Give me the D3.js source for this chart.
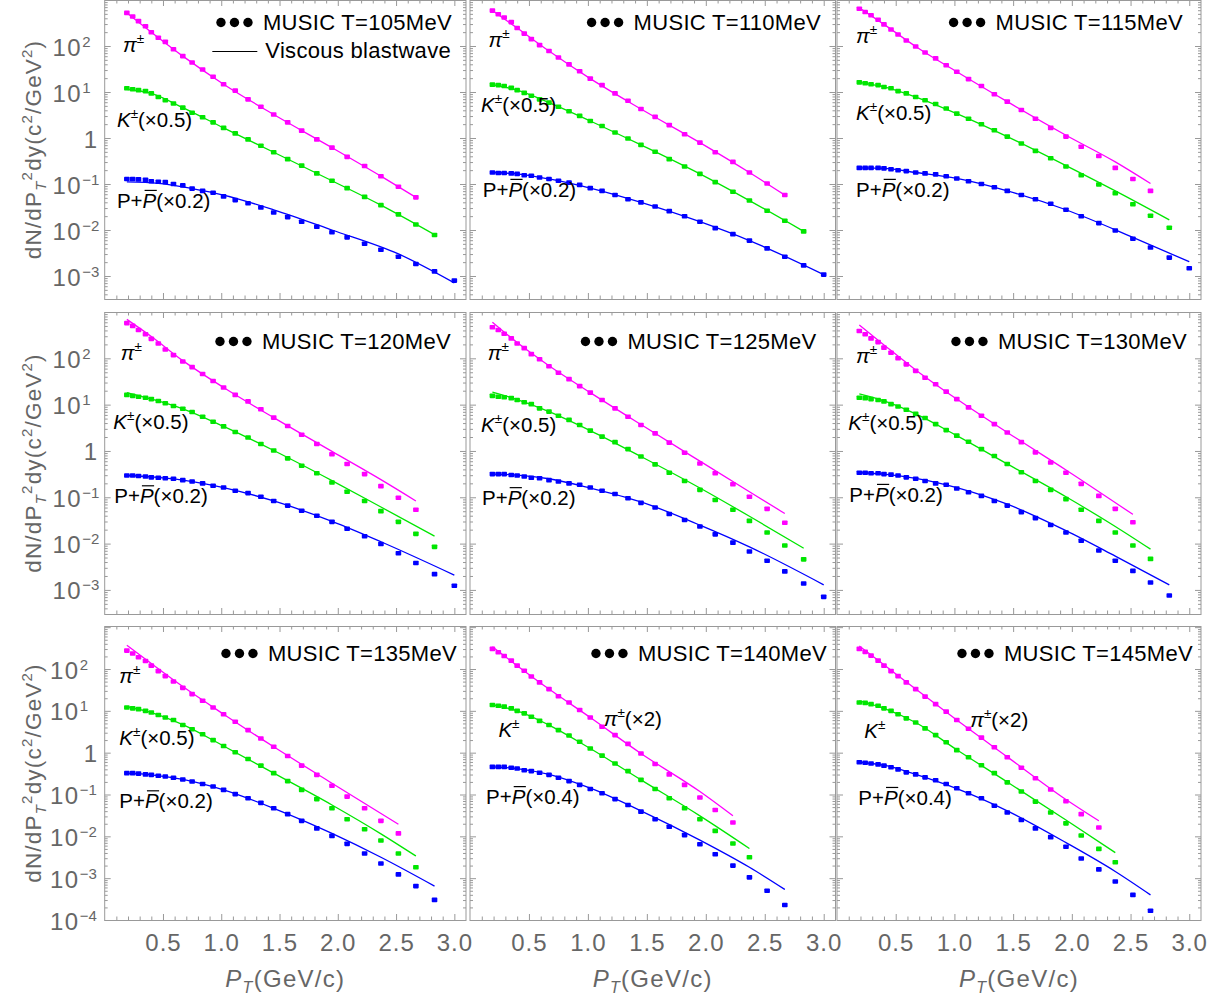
<!DOCTYPE html>
<html>
<head>
<meta charset="utf-8">
<style>
body { margin: 0; background: #fff; }
text { font-family: "Liberation Sans", Arial, Helvetica, sans-serif; }
</style>
</head>
<body>
<svg id="chart" width="1218" height="999"></svg>
<script src="https://d3js.org/d3.v7.min.js"></script>
<script>
// pT grid of the MUSIC points (GeV/c), shared by all panels
var ptGrid = [0.19, 0.24, 0.29, 0.35, 0.40, 0.46, 0.52, 0.59, 0.67, 0.75, 0.84, 0.93, 1.02, 1.12,
              1.23, 1.34, 1.45, 1.57, 1.69, 1.82, 1.95, 2.08, 2.23, 2.37, 2.52, 2.67, 2.83, 3.00];
var temperatures = [105, 110, 115, 120, 125, 130, 135, 140, 145];

// MUSIC points, log10 of dN/dPT^2dy (already scaled), one row per panel
var pionLog = [
  [2.72, 2.64, 2.54, 2.43, 2.30, 2.18, 2.09, 1.93, 1.78, 1.64, 1.49, 1.33, 1.17, 1.03, 0.84, 0.68, 0.51, 0.34, 0.16, -0.03, -0.21, -0.41, -0.61, -0.83, -1.06, -1.29],
  [2.77, 2.69, 2.62, 2.52, 2.39, 2.27, 2.15, 2.02, 1.89, 1.75, 1.60, 1.45, 1.29, 1.15, 0.97, 0.81, 0.63, 0.46, 0.28, 0.08, -0.10, -0.31, -0.52, -0.75, -0.99, -1.24],
  [2.81, 2.74, 2.67, 2.57, 2.47, 2.36, 2.25, 2.12, 1.99, 1.86, 1.73, 1.58, 1.44, 1.28, 1.13, 0.95, 0.79, 0.61, 0.42, 0.22, 0.03, -0.19, -0.39, -0.65, -0.89, -1.15],
  [2.76, 2.70, 2.61, 2.52, 2.42, 2.32, 2.19, 2.07, 1.93, 1.81, 1.66, 1.51, 1.37, 1.21, 1.07, 0.90, 0.72, 0.54, 0.35, 0.15, -0.07, -0.28, -0.50, -0.76, -1.01, -1.27],
  [2.67, 2.61, 2.53, 2.43, 2.32, 2.22, 2.09, 1.98, 1.83, 1.69, 1.55, 1.40, 1.26, 1.10, 0.92, 0.74, 0.56, 0.38, 0.18, -0.04, -0.27, -0.48, -0.72, -0.99, -1.25, -1.55],
  [2.59, 2.52, 2.43, 2.35, 2.23, 2.12, 2.00, 1.87, 1.73, 1.58, 1.44, 1.28, 1.12, 0.94, 0.76, 0.58, 0.40, 0.19, -0.03, -0.25, -0.47, -0.71, -0.97, -1.25, -1.54],
  [2.44, 2.37, 2.28, 2.19, 2.08, 1.95, 1.83, 1.70, 1.55, 1.40, 1.24, 1.08, 0.92, 0.74, 0.54, 0.34, 0.14, -0.08, -0.31, -0.53, -0.79, -1.05, -1.33, -1.63, -1.93],
  [2.48, 2.40, 2.31, 2.20, 2.08, 1.96, 1.82, 1.68, 1.52, 1.35, 1.20, 1.02, 0.84, 0.62, 0.42, 0.21, -0.02, -0.27, -0.52, -0.77, -1.07, -1.37, -1.67],
  [2.48, 2.41, 2.32, 2.20, 2.08, 1.95, 1.83, 1.68, 1.52, 1.34, 1.16, 0.98, 0.78, 0.57, 0.36, 0.13, -0.11, -0.36, -0.61, -0.88, -1.16, -1.47, -1.79]
];
var kaonLog = [
  [1.08, 1.06, 1.04, 1.02, 0.97, 0.89, 0.82, 0.75, 0.66, 0.55, 0.45, 0.34, 0.22, 0.10, -0.03, -0.17, -0.31, -0.46, -0.60, -0.77, -0.93, -1.09, -1.28, -1.46, -1.66, -1.88, -2.11],
  [1.16, 1.15, 1.13, 1.09, 1.04, 0.98, 0.92, 0.84, 0.77, 0.68, 0.58, 0.48, 0.37, 0.26, 0.12, -0.01, -0.15, -0.30, -0.46, -0.62, -0.78, -0.96, -1.17, -1.36, -1.58, -1.80, -2.03],
  [1.21, 1.19, 1.17, 1.15, 1.11, 1.08, 1.02, 0.97, 0.89, 0.82, 0.74, 0.64, 0.53, 0.42, 0.30, 0.17, 0.03, -0.12, -0.28, -0.44, -0.62, -0.81, -1.01, -1.20, -1.44, -1.69, -1.95],
  [1.21, 1.19, 1.17, 1.15, 1.12, 1.08, 1.03, 0.97, 0.91, 0.84, 0.74, 0.63, 0.53, 0.41, 0.29, 0.15, 0.01, -0.16, -0.32, -0.48, -0.68, -0.88, -1.08, -1.30, -1.53, -1.79, -2.07],
  [1.19, 1.17, 1.16, 1.14, 1.10, 1.05, 1.01, 0.92, 0.85, 0.76, 0.67, 0.56, 0.44, 0.31, 0.19, 0.04, -0.12, -0.29, -0.47, -0.65, -0.84, -1.06, -1.27, -1.51, -1.76, -2.04, -2.34],
  [1.15, 1.14, 1.12, 1.10, 1.07, 1.01, 0.96, 0.89, 0.80, 0.71, 0.58, 0.45, 0.33, 0.20, 0.04, -0.11, -0.28, -0.46, -0.65, -0.84, -1.04, -1.27, -1.51, -1.76, -2.04, -2.33],
  [1.08, 1.06, 1.04, 1.00, 0.96, 0.90, 0.84, 0.78, 0.66, 0.56, 0.44, 0.30, 0.16, 0.01, -0.15, -0.31, -0.49, -0.68, -0.89, -1.11, -1.33, -1.59, -1.83, -2.10, -2.41, -2.74],
  [1.14, 1.12, 1.10, 1.06, 1.00, 0.94, 0.86, 0.76, 0.66, 0.54, 0.41, 0.26, 0.10, -0.07, -0.26, -0.44, -0.65, -0.87, -1.09, -1.33, -1.59, -1.87, -2.17, -2.50],
  [1.20, 1.19, 1.16, 1.12, 1.06, 1.00, 0.92, 0.82, 0.72, 0.58, 0.42, 0.25, 0.06, -0.11, -0.30, -0.49, -0.71, -0.93, -1.17, -1.43, -1.69, -1.98, -2.30, -2.62]
];
var protonLog = [
  [-0.89, -0.89, -0.90, -0.91, -0.94, -0.95, -0.96, -1.00, -1.03, -1.10, -1.15, -1.19, -1.27, -1.35, -1.42, -1.51, -1.62, -1.72, -1.82, -1.93, -2.05, -2.16, -2.30, -2.43, -2.58, -2.74, -2.90, -3.10],
  [-0.75, -0.76, -0.76, -0.77, -0.78, -0.81, -0.82, -0.86, -0.89, -0.93, -0.97, -1.02, -1.09, -1.15, -1.24, -1.33, -1.40, -1.49, -1.59, -1.70, -1.82, -1.96, -2.09, -2.23, -2.40, -2.58, -2.77, -2.97],
  [-0.65, -0.65, -0.65, -0.65, -0.66, -0.68, -0.70, -0.72, -0.75, -0.77, -0.79, -0.83, -0.88, -0.94, -1.00, -1.07, -1.15, -1.24, -1.33, -1.43, -1.56, -1.70, -1.85, -2.01, -2.19, -2.38, -2.60, -2.83],
  [-0.53, -0.53, -0.54, -0.55, -0.57, -0.58, -0.59, -0.60, -0.63, -0.66, -0.70, -0.75, -0.79, -0.86, -0.91, -0.99, -1.08, -1.18, -1.29, -1.40, -1.53, -1.68, -1.84, -2.01, -2.21, -2.42, -2.66, -2.91],
  [-0.50, -0.50, -0.50, -0.52, -0.53, -0.55, -0.58, -0.59, -0.63, -0.66, -0.70, -0.73, -0.79, -0.86, -0.93, -1.02, -1.12, -1.22, -1.36, -1.49, -1.63, -1.80, -1.98, -2.17, -2.37, -2.60, -2.86, -3.15],
  [-0.47, -0.47, -0.48, -0.48, -0.50, -0.51, -0.53, -0.57, -0.60, -0.65, -0.70, -0.73, -0.81, -0.89, -0.97, -1.08, -1.18, -1.32, -1.45, -1.60, -1.76, -1.94, -2.15, -2.37, -2.59, -2.84, -3.12],
  [-0.49, -0.49, -0.50, -0.52, -0.53, -0.55, -0.57, -0.60, -0.64, -0.69, -0.75, -0.81, -0.89, -0.99, -1.09, -1.20, -1.33, -1.47, -1.63, -1.81, -1.99, -2.18, -2.41, -2.65, -2.91, -3.19, -3.52],
  [-0.34, -0.34, -0.34, -0.36, -0.38, -0.42, -0.44, -0.48, -0.53, -0.60, -0.68, -0.77, -0.87, -0.97, -1.11, -1.25, -1.41, -1.59, -1.77, -1.97, -2.19, -2.43, -2.70, -2.98, -3.30, -3.64],
  [-0.23, -0.24, -0.26, -0.28, -0.31, -0.35, -0.40, -0.47, -0.52, -0.59, -0.66, -0.75, -0.85, -0.97, -1.09, -1.27, -1.43, -1.61, -1.81, -2.02, -2.25, -2.53, -2.79, -3.08, -3.40, -3.78]
];

// viscous blastwave curves, knots [pT, log10 value]
var pionBW = [
  [[0.19, 2.72], [0.40, 2.30], [0.67, 1.78], [1.02, 1.17], [1.45, 0.51], [1.95, -0.21], [2.37, -0.83], [2.67, -1.29]],
  [[0.19, 2.77], [0.40, 2.39], [0.67, 1.89], [1.02, 1.29], [1.45, 0.63], [1.95, -0.10], [2.37, -0.75], [2.67, -1.24]],
  [[0.19, 2.83], [0.40, 2.47], [0.67, 1.99], [1.02, 1.44], [1.45, 0.79], [1.95, 0.06], [2.37, -0.52], [2.67, -0.99]],
  [[0.19, 2.84], [0.40, 2.47], [0.67, 1.95], [1.02, 1.37], [1.45, 0.72], [1.95, -0.01], [2.37, -0.62], [2.67, -1.08]],
  [[0.19, 2.78], [0.40, 2.34], [0.67, 1.84], [1.02, 1.26], [1.45, 0.57], [1.95, -0.22], [2.37, -0.88], [2.67, -1.35]],
  [[0.19, 2.72], [0.40, 2.29], [0.67, 1.75], [1.02, 1.12], [1.45, 0.40], [1.95, -0.41], [2.52, -1.37]],
  [[0.19, 2.57], [0.40, 2.13], [0.67, 1.58], [1.02, 0.92], [1.45, 0.14], [1.95, -0.73], [2.52, -1.71]],
  [[0.19, 2.53], [0.40, 2.08], [0.67, 1.52], [1.02, 0.84], [1.45, -0.02], [1.95, -0.93], [2.23, -1.51]],
  [[0.19, 2.55], [0.40, 2.10], [0.67, 1.52], [1.02, 0.78], [1.45, -0.10], [1.95, -1.12], [2.23, -1.63]]
];
var kaonBW = [
  [[0.19, 1.06], [0.40, 0.97], [0.67, 0.66], [1.02, 0.22], [1.45, -0.31], [1.95, -0.93], [2.37, -1.46], [2.85, -2.13]],
  [[0.19, 1.16], [0.40, 1.04], [0.67, 0.77], [1.02, 0.37], [1.45, -0.15], [1.95, -0.78], [2.37, -1.36], [2.83, -2.03]],
  [[0.19, 1.21], [0.40, 1.11], [0.67, 0.89], [1.02, 0.53], [1.45, 0.03], [1.95, -0.60], [2.37, -1.15], [2.83, -1.78]],
  [[0.19, 1.26], [0.40, 1.12], [0.67, 0.91], [1.02, 0.53], [1.45, 0.01], [1.95, -0.64], [2.37, -1.21], [2.83, -1.84]],
  [[0.19, 1.27], [0.40, 1.11], [0.67, 0.85], [1.02, 0.44], [1.45, -0.12], [1.95, -0.80], [2.37, -1.41], [2.83, -2.10]],
  [[0.19, 1.23], [0.40, 1.08], [0.67, 0.80], [1.02, 0.33], [1.45, -0.28], [1.95, -0.99], [2.37, -1.63], [2.67, -2.12]],
  [[0.19, 1.10], [0.40, 0.96], [0.67, 0.67], [1.02, 0.16], [1.45, -0.49], [1.95, -1.25], [2.37, -1.94], [2.67, -2.47]],
  [[0.19, 1.14], [0.40, 1.00], [0.67, 0.66], [1.02, 0.10], [1.45, -0.65], [1.95, -1.51], [2.37, -2.29]],
  [[0.19, 1.24], [0.40, 1.06], [0.67, 0.72], [1.02, 0.07], [1.45, -0.70], [1.95, -1.61], [2.37, -2.39]]
];
var protonBW = [
  [[0.19, -0.955], [0.46, -0.985], [0.75, -1.10], [1.02, -1.24], [1.45, -1.56], [1.95, -2.00], [2.52, -2.52], [3.00, -3.15]],
  [[0.19, -0.75], [0.40, -0.78], [0.67, -0.89], [1.02, -1.09], [1.45, -1.40], [1.95, -1.82], [2.37, -2.23], [3.00, -2.97]],
  [[0.19, -0.65], [0.40, -0.66], [0.67, -0.75], [1.02, -0.88], [1.45, -1.15], [1.95, -1.56], [2.52, -2.16], [3.00, -2.69]],
  [[0.19, -0.53], [0.40, -0.56], [0.67, -0.63], [1.02, -0.79], [1.45, -1.08], [1.95, -1.52], [2.37, -1.96], [3.00, -2.68]],
  [[0.19, -0.50], [0.40, -0.52], [0.67, -0.60], [1.02, -0.80], [1.45, -1.10], [1.95, -1.60], [2.37, -2.07], [3.00, -2.89]],
  [[0.19, -0.47], [0.40, -0.50], [0.67, -0.59], [1.02, -0.79], [1.45, -1.15], [1.95, -1.72], [2.37, -2.27], [2.83, -2.89]],
  [[0.19, -0.49], [0.40, -0.53], [0.67, -0.64], [1.02, -0.89], [1.45, -1.33], [1.95, -1.93], [2.37, -2.50], [2.83, -3.19]],
  [[0.19, -0.34], [0.40, -0.38], [0.67, -0.52], [1.02, -0.85], [1.45, -1.39], [1.95, -2.09], [2.37, -2.74], [2.67, -3.27]],
  [[0.19, -0.23], [0.40, -0.30], [0.67, -0.52], [1.02, -0.86], [1.45, -1.39], [1.95, -2.15], [2.37, -2.84], [2.67, -3.40]]
];

// scale factors written in the species labels
var pionFactor = ["", "", "", "", "", "", "", "×2", "×2"];
var kaonFactor = ["×0.5", "×0.5", "×0.5", "×0.5", "×0.5", "×0.5", "×0.5", "", ""];
var protonFactor = ["×0.2", "×0.2", "×0.2", "×0.2", "×0.2", "×0.2", "×0.2", "×0.4", "×0.4"];
// label anchors in data coordinates [pT, log10]: pion, kaon, proton
var labelAt = [
  [[0.157, 1.87], [0.105, 0.24], [0.105, -1.52]],
  [[0.156, 1.985], [0.094, 0.57], [0.108, -1.28]],
  [[0.162, 2.06], [0.162, 0.39], [0.162, -1.28]],
  [[0.137, 1.96], [0.074, 0.47], [0.082, -1.13]],
  [[0.151, 1.96], [0.094, 0.42], [0.102, -1.17]],
  [[0.162, 1.89], [0.096, 0.45], [0.105, -1.10]],
  [[0.125, 1.66], [0.125, 0.18], [0.125, -1.33]],
  [[1.134, 0.64], [0.241, 0.37], [0.136, -1.23]],
  [[1.134, 0.62], [0.233, 0.35], [0.182, -1.25]]
];
var yPowers = [[2, 1, 0, -1, -2, -3], [2, 1, 0, -1, -2, -3], [2, 1, 0, -1, -2, -3, -4]];
var xTicks = [0.5, 1.0, 1.5, 2.0, 2.5, 3.0];

// layout
var colX = [[104.7, 466], [470, 835.5], [837, 1201]];
var rowY = [[0, 299], [312, 614], [626, 920]];
var rowLog = [[-3.5, 3], [-3.52, 3], [-4, 3.028]];
var legendRight = [14, 14.5, 18, 15, 19, 14, 9, 8.5, 8];
var legendBase = [30, 37, 35];
var colors = ["#ff00ff", "#00e600", "#0000ff"];
var frameColor = "#999";
var labelGray = "#666";

var svg = d3.select("#chart");
svg.append("rect").attr("width", 1218).attr("height", 999).attr("fill", "#fff");

for (var p = 0; p < 9; p++) drawPanel(p);
for (var r = 0; r < 3; r++) yTitle(r);
for (var c = 0; c < 3; c++) xTitle(c);

function drawPanel(i) {
  var row = Math.floor(i / 3), col = i % 3;
  var left = colX[col][0], right = colX[col][1];
  var top = rowY[row][0], bottom = rowY[row][1];
  var lo = rowLog[row][0], hi = rowLog[row][1];
  var x = d3.scaleLinear().domain([0, 3.1]).range([left, right]);
  var y = d3.scaleLog().domain([Math.pow(10, lo), Math.pow(10, hi)]).range([bottom, top]);
  var g = svg.append("g");

  // ticks
  var xMinor = d3.range(1, 31).map(function(k) { return k / 10; }).filter(function(v) { return Math.round(v * 10) % 5 != 0; });
  var yMajor = [], yMinor = [];
  for (var d = Math.floor(lo); d <= Math.ceil(hi); d++) {
    if (d >= lo && d <= hi) yMajor.push(Math.pow(10, d));
    for (var k = 2; k < 10; k++) {
      var lv = d + Math.log10(k);
      if (lv > lo && lv < hi) yMinor.push(k * Math.pow(10, d));
    }
  }
  function ticks(gen, values, size, tx, ty) {
    var a = g.append("g").attr("transform", "translate(" + tx + "," + ty + ")")
      .call(gen.tickValues(values).tickSize(-size).tickFormat(""));
    a.select(".domain").remove();
    a.selectAll("line").attr("stroke", frameColor).attr("stroke-width", 1);
    return a;
  }
  ticks(d3.axisBottom(x), xTicks, 6, 0, bottom);
  ticks(d3.axisBottom(x), xMinor, 3.5, 0, bottom);
  ticks(d3.axisTop(x), xTicks, 6, 0, top);
  ticks(d3.axisTop(x), xMinor, 3.5, 0, top);
  ticks(d3.axisLeft(y), yMajor, 6, left, 0);
  ticks(d3.axisLeft(y), yMinor, 3, left, 0);
  ticks(d3.axisRight(y), yMajor, 6, right, 0);
  ticks(d3.axisRight(y), yMinor, 3, right, 0);

  g.append("rect").attr("x", left).attr("y", top + 0.5).attr("width", right - left).attr("height", bottom - top)
    .attr("fill", "none").attr("stroke", frameColor).attr("stroke-width", 1);

  // x tick labels on the bottom row
  if (row == 2) {
    var xl = g.append("g").attr("transform", "translate(0," + bottom + ")")
      .call(d3.axisBottom(x).tickValues(xTicks).tickSize(0).tickPadding(13.5).tickFormat(d3.format(".1f")));
    xl.select(".domain").remove();
    xl.attr("font-size", 24).attr("font-family", null);
    xl.selectAll("text").attr("fill", labelGray).attr("letter-spacing", 1);
  }
  // y tick labels on the left column
  if (col == 0) {
    yPowers[row].forEach(function(pw) {
      var ty = y(Math.pow(10, pw)) + 9.5;
      if (pw == 0) {
        g.append("text").attr("x", 97).attr("y", ty).attr("text-anchor", "end")
          .attr("font-size", 24).attr("fill", labelGray).text("1");
      } else {
        var t = g.append("text").attr("x", row == 2 ? 50 : 52.5).attr("y", ty)
          .attr("font-size", 24).attr("fill", labelGray).attr("letter-spacing", 1.5);
        t.append("tspan").text("10");
        t.append("tspan").attr("font-size", 15).attr("dy", -9).attr("letter-spacing", 0)
          .text(pw < 0 ? "\u2212" + (-pw) : String(pw));
      }
    });
  }

  // MUSIC points then blastwave curves
  var music = [pionLog[i], kaonLog[i], protonLog[i]];
  var bw = [pionBW[i], kaonBW[i], protonBW[i]];
  var line = d3.line()
    .x(function(d) { return x(d[0]); })
    .y(function(d) { return y(Math.pow(10, d[1])); })
    .curve(d3.curveMonotoneX);
  music.forEach(function(vals, s) {
    g.append("g").selectAll("rect")
      .data(vals.map(function(v, k) { return [ptGrid[k], v]; }))
      .enter().append("rect")
      .attr("x", function(d) { return x(d[0]) - 2.8; })
      .attr("y", function(d) { return y(Math.pow(10, d[1])) - 2.3; })
      .attr("width", 5.6).attr("height", 4.6).attr("rx", 0.8)
      .attr("fill", colors[s]);
  });
  bw.forEach(function(knots, s) {
    g.append("path").attr("d", line(knots)).attr("fill", "none")
      .attr("stroke", colors[s]).attr("stroke-width", 1.3);
  });

  // species labels
  var la = labelAt[i];
  function lab(k) {
    return g.append("text").attr("x", x(la[k][0])).attr("y", y(Math.pow(10, la[k][1])))
      .attr("font-size", 20.5).attr("fill", "#000");
  }
  var tp = lab(0);
  tp.append("tspan").attr("font-style", "italic").text("\u03c0");
  tp.append("tspan").attr("font-size", 13.5).attr("dy", -9).text("\u00b1");
  if (pionFactor[i]) tp.append("tspan").attr("dy", 9).text("(" + pionFactor[i] + ")");
  var tk = lab(1);
  tk.append("tspan").attr("font-style", "italic").text("K");
  tk.append("tspan").attr("font-size", 13.5).attr("dy", -9).text("\u00b1");
  if (kaonFactor[i]) tk.append("tspan").attr("dy", 9).text("(" + kaonFactor[i] + ")");
  var tpr = lab(2);
  tpr.append("tspan").text("P+");
  tpr.append("tspan").attr("font-style", "italic").text("P");
  tpr.append("tspan").text("(" + protonFactor[i] + ")");
  var ext = tpr.node().getExtentOfChar(2);
  var base = y(Math.pow(10, la[2][1]));
  g.append("line").attr("x1", ext.x + 2).attr("x2", ext.x + ext.width + 0.5)
    .attr("y1", base - 17.5).attr("y2", base - 17.5).attr("stroke", "#000").attr("stroke-width", 1.2);

  // legend
  var lx = right - legendRight[i], ly = top + legendBase[row];
  var lt = g.append("text").attr("x", lx).attr("y", ly).attr("text-anchor", "end")
    .attr("font-size", 22).attr("letter-spacing", 0.3).attr("fill", "#000")
    .text("MUSIC T=" + temperatures[i] + "MeV");
  var start = lx - lt.node().getComputedTextLength();
  g.selectAll(null).data([0, 1, 2]).enter().append("circle")
    .attr("cx", function(d) { return start - 15 - 13.5 * d; }).attr("cy", ly - 7.5)
    .attr("r", 4.7).attr("fill", "#000");
  if (i == 0) {
    var lt2 = g.append("text").attr("x", lx - 1).attr("y", ly + 28).attr("text-anchor", "end")
      .attr("font-size", 22).attr("letter-spacing", 0.3).attr("fill", "#000")
      .text("Viscous blastwave");
    var s2 = lx - 1 - lt2.node().getComputedTextLength();
    g.append("line").attr("x1", s2 - 53).attr("x2", s2 - 8)
      .attr("y1", ly + 21.5).attr("y2", ly + 21.5).attr("stroke", "#000").attr("stroke-width", 1.2);
  }
}

function yTitle(row) {
  var cy = (rowY[row][0] + rowY[row][1]) / 2;
  var t = svg.append("text").attr("transform", "translate(41," + cy + ") rotate(-90)")
    .attr("text-anchor", "middle").attr("font-size", 22.5).attr("letter-spacing", 1.2)
    .attr("fill", labelGray);
  t.append("tspan").text("dN/dP");
  t.append("tspan").attr("font-size", 15).attr("font-style", "italic").attr("dy", 5).text("T");
  t.append("tspan").attr("font-size", 15).attr("dy", -14).text("2");
  t.append("tspan").attr("dy", 9).text("dy(c");
  t.append("tspan").attr("font-size", 15).attr("dy", -9).text("2");
  t.append("tspan").attr("dy", 9).text("/GeV");
  t.append("tspan").attr("font-size", 15).attr("dy", -9).text("2");
  t.append("tspan").attr("dy", 9).text(")");
}

function xTitle(col) {
  var cx = (colX[col][0] + colX[col][1]) / 2;
  var t = svg.append("text").attr("x", cx).attr("y", 987).attr("text-anchor", "middle")
    .attr("font-size", 24).attr("letter-spacing", 1.3).attr("fill", labelGray);
  t.append("tspan").attr("font-style", "italic").text("P");
  t.append("tspan").attr("font-size", 16).attr("font-style", "italic").attr("dy", 6).text("T");
  t.append("tspan").attr("dy", -6).text("(GeV/c)");
}
</script>
</body>
</html>
